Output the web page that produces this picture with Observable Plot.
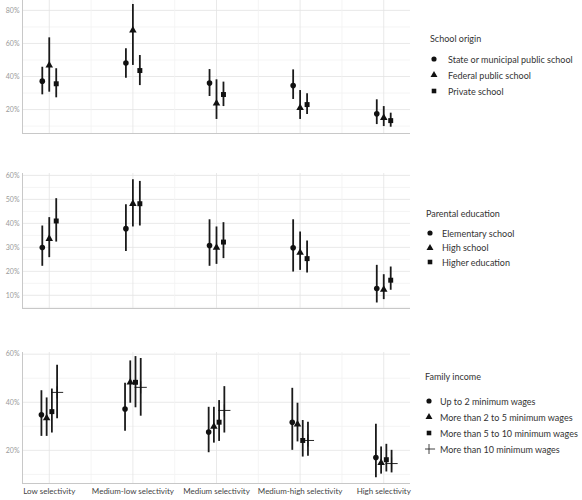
<!DOCTYPE html>
<html><head><meta charset="utf-8">
<script src="https://cdn.jsdelivr.net/npm/d3@7"></script>
<script src="https://cdn.jsdelivr.net/npm/@observablehq/plot@0.6"></script>
<style>
body{margin:0;background:#fff;font-family:Lato,"Open Sans",sans-serif;}
#wrap{position:relative;width:582px;height:500px;overflow:hidden;}
.pl{position:absolute;left:0;overflow:visible;}
.lg{position:absolute;color:#333;font-size:9px;}
.lg .t{white-space:nowrap;}
.lg .it{display:flex;align-items:center;white-space:nowrap;}
.lg svg{flex:none;}
</style></head>
<body><div id="wrap"></div>
<script>
const categories = ["Low selectivity","Medium-low selectivity","Medium selectivity","Medium-high selectivity","High selectivity"];

// Panel 1: School origin
const schoolGroups = ["State or municipal public school","Federal public school","Private school"];
const schoolEst = [[37.2,48.1,36.0,34.5,17.4],[46.7,67.9,23.8,21.0,15.0],[35.6,43.6,29.1,23.0,13.3]];
const schoolLo  = [[28.9,39.0,27.9,26.1,10.9],[30.5,46.7,14.0,14.0,9.7],[27.1,34.5,21.8,17.0,9.3]];
const schoolHi  = [[45.6,56.8,44.2,44.0,25.9],[63.4,83.6,38.0,31.5,21.8],[44.7,52.7,36.6,29.5,17.8]];

// Panel 2: Parental education
const parentGroups = ["Elementary school","High school","Higher education"];
const parentEst = [[29.9,37.8,30.8,29.8,12.8],[33.6,48.2,29.9,27.8,12.4],[41.0,48.2,32.2,25.3,16.3]];
const parentLo  = [[22.1,28.3,22.1,19.7,6.8],[25.7,38.5,22.9,20.4,8.2],[32.2,38.9,25.3,19.3,12.1]];
const parentHi  = [[38.9,47.8,41.5,41.5,22.5],[42.4,58.2,38.5,36.4,18.6],[50.3,57.5,40.3,32.6,21.8]];

// Panel 3: Family income
const incomeGroups = ["Up to 2 minimum wages","More than 2 to 5 minimum wages","More than 5 to 10 minimum wages","More than 10 minimum wages"];
const incomeEst = [[34.8,37.2,27.6,31.7,17.0],[33.4,48.3,29.9,30.8,14.8],[36.1,48.3,31.7,24.1,16.1],[44.1,46.2,36.6,24.1,14.5]];
const incomeLo  = [[25.8,27.9,19.0,20.0,8.6],[25.8,39.6,23.0,23.5,10.1],[27.2,37.7,23.7,17.2,11.0],[33.1,34.2,27.2,17.5,10.6]];
const incomeHi  = [[44.8,47.9,37.9,45.8,30.8],[41.8,57.2,37.9,39.6,21.4],[45.5,59.0,40.7,32.4,22.5],[55.4,58.2,46.5,31.7,20.0]];

const symbolNames = ["circle","triangle","square","plus"];
const wrap = document.getElementById("wrap");
const X0 = 0.68, X1 = 5.32;

function panel(o){
  const n = o.est.length;
  const rows = [];
  o.est.forEach((s,j)=>s.forEach((v,i)=>rows.push({
    x: i+1 + (j-(n-1)/2)*0.25/n, est:v, lo:o.lo[j][i], hi:o.hi[j][i], s:j})));
  const centers = d3.range(1, categories.length+1);
  const mids = centers.slice(0,-1).map(c=>c+0.5);
  const marks = [
    Plot.ruleY(o.minor,{stroke:"#f1f1f1",strokeWidth:0.8}),
    Plot.ruleY(o.major,{stroke:"#e3e3e3",strokeWidth:0.8}),
    Plot.ruleX(mids,{stroke:"#f1f1f1",strokeWidth:0.8}),
    Plot.ruleX(centers,{stroke:"#e3e3e3",strokeWidth:0.8}),
    Plot.ruleX([X0],{stroke:"#c8c8c8"}),
    Plot.ruleY([o.yDomain[0]],{stroke:"#c8c8c8"}),
    Plot.axisY(o.major,{tickSize:0,tickPadding:3,fontSize:7,fill:"#9a9a9a",tickFormat:d=>d+"%",label:null}),
    Plot.ruleX(rows,{x:"x",y1:"lo",y2:"hi",stroke:"#1a1a1a",strokeWidth:1.8}),
    Plot.dot(rows.filter(d=>symbolNames[d.s]!=="plus"),{x:"x",y:"est",r:2.8,fill:"#111",stroke:"none",
      symbol:d=>symbolNames[d.s]}),
    Plot.dot(rows.filter(d=>symbolNames[d.s]==="plus"),{x:"x",y:"est",r:4,stroke:"#111",strokeWidth:0.9,symbol:"plus"})
  ];
  if (o.showX) marks.push(Plot.axisX(centers,{tickSize:0,tickPadding:5,fontSize:8,fill:"#444",
    tickFormat:i=>categories[i-1],label:null}));
  const chart = Plot.plot({
    width:412, height:o.height, marginLeft:22, marginRight:2,
    marginTop:o.marginTop, marginBottom:o.marginBottom,
    style:{fontFamily:"Lato, 'Open Sans', sans-serif", background:"transparent", overflow:"visible"},
    x:{type:"linear",domain:[X0,X1],axis:null},
    y:{domain:o.yDomain,axis:null},
    symbol:{type:"identity"},
    marks
  });
  chart.classList.add("pl");
  chart.style.top = o.top+"px";
  wrap.appendChild(chart);

  // legend
  const lg = document.createElement("div");
  lg.className = "lg";
  lg.style.left = o.lgX+"px"; lg.style.top = o.lgY+"px";
  const t = document.createElement("div"); t.className="t"; t.textContent = o.title;
  t.style.marginBottom = o.titleGap+"px"; lg.appendChild(t);
  o.groups.forEach((g,j)=>{
    const it = document.createElement("div"); it.className="it"; it.style.height=o.lgStep+"px";
    const nm = symbolNames[j];
    const svg = d3.create("svg").attr("width",o.lgGap).attr("height",10);
    const sym = {circle:d3.symbolCircle,triangle:d3.symbolTriangle,square:d3.symbolSquare,plus:d3.symbolPlus}[nm];
    const p = svg.append("path").attr("transform","translate(4,5)");
    if (nm==="plus") p.attr("d",d3.symbol(sym,50)()).attr("fill","none").attr("stroke","#111").attr("stroke-width",0.8);
    else p.attr("d",d3.symbol(sym,21)()).attr("fill","#111");
    it.appendChild(svg.node());
    const sp = document.createElement("span"); sp.textContent = g; it.appendChild(sp);
    lg.appendChild(it);
  });
  wrap.appendChild(lg);
}

panel({est:schoolEst,lo:schoolLo,hi:schoolHi,groups:schoolGroups,title:"School origin",
  yDomain:[5.5,86],major:[20,40,60,80],minor:[10,30,50,70],
  top:0,height:136,marginTop:0,marginBottom:3,showX:false,
  lgX:430,lgY:33,lgStep:16,lgGap:18,titleGap:7});
panel({est:parentEst,lo:parentLo,hi:parentHi,groups:parentGroups,title:"Parental education",
  yDomain:[4.5,60.8],major:[10,20,30,40,50,60],minor:[5,15,25,35,45,55],
  top:170,height:141,marginTop:3,marginBottom:3,showX:false,
  lgX:426,lgY:208,lgStep:14.5,lgGap:16,titleGap:7});
panel({est:incomeEst,lo:incomeLo,hi:incomeHi,groups:incomeGroups,title:"Family income",
  yDomain:[6.2,60.7],major:[20,40,60],minor:[10,30,50],
  top:348,height:152,marginTop:4,marginBottom:17,showX:true,
  lgX:425,lgY:371,lgStep:16,lgGap:15,titleGap:11});
</script></body></html>
